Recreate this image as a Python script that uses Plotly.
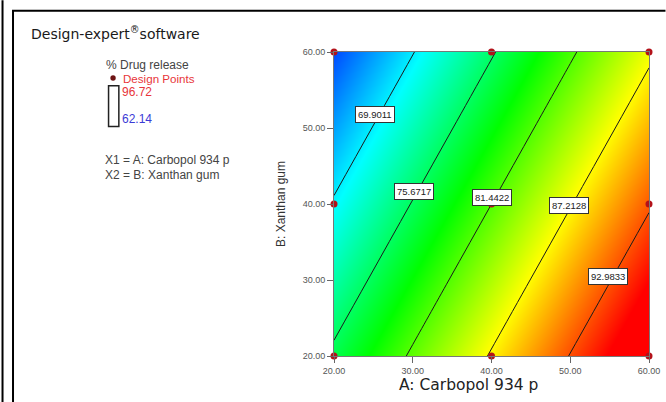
import plotly.graph_objects as go

# ---------------- data ----------------
A_levels = [20, 30, 40, 50, 60]          # A: Carbopol 934 p
B_levels = [20, 30, 40, 50, 60]          # B: Xanthan gum
# % drug release response surface (rows = B_levels, cols = A_levels)
release = [
    [76.30, 81.90, 87.50, 93.10, 98.70],   # B = 20
    [73.27, 78.87, 84.47, 90.07, 95.67],   # B = 30
    [70.24, 75.84, 81.44, 87.04, 92.64],   # B = 40
    [67.21, 72.81, 78.41, 84.01, 89.61],   # B = 50
    [64.18, 69.78, 75.38, 80.98, 86.58],   # B = 60
]
contour_levels = [69.9011, 75.6717, 81.4422, 87.2128, 92.9833]
label_A = [25.2, 30.1, 40.0, 49.8, 54.8]
label_B = [51.8, 41.7, 40.8, 39.8, 30.5]
design_A = [20, 20, 20, 40, 40, 40, 60, 60, 60]
design_B = [20, 40, 60, 20, 40, 60, 20, 40, 60]
resp_min, resp_max = 62.14, 96.72
tick_vals = [20, 30, 40, 50, 60]

# ---------------- layout geometry (pixels) ----------------
W, H = 666, 402
L, R, T, Bm = 334, 649.5, 51.7, 355.7

def pxx(px):
    return (px - L) / (R - L)

def pxy(py):
    return (Bm - py) / (Bm - T)

colorscale = [[0.0, "#0010ff"], [0.24, "#00ffff"], [0.48, "#00ff00"],
              [0.72, "#ffff00"], [0.97, "#ff0000"], [1.0, "#ff0000"]]

fig = go.Figure()
fig.add_trace(go.Heatmap(
    x=A_levels, y=B_levels, z=release, zsmooth="best",
    colorscale=colorscale, zmin=resp_min, zmax=resp_max, showscale=False,
    hoverinfo="skip"))
step = (contour_levels[-1] - contour_levels[0]) / (len(contour_levels) - 1)
fig.add_trace(go.Contour(
    x=A_levels, y=B_levels, z=release,
    contours=dict(start=contour_levels[0], end=contour_levels[-1], size=step,
                  coloring="lines", showlabels=False),
    colorscale=[[0, "#1a1a1a"], [1, "#1a1a1a"]], showscale=False,
    line=dict(width=1), hoverinfo="skip"))
fig.add_trace(go.Scatter(
    x=design_A, y=design_B, mode="markers",
    marker=dict(size=7, color="#b3121a"), cliponaxis=False, hoverinfo="skip"))

annotations = []
for a, b, lv in zip(label_A, label_B, contour_levels):
    annotations.append(dict(
        x=a, y=b, xref="x", yref="y", text=f"{lv:.4f}", showarrow=False,
        font=dict(family="Arial", size=9.5, color="#222"),
        bgcolor="white", bordercolor="#333", borderwidth=1, borderpad=2))

def txt(px, py, text, size, color, family="Arial", anchor="left"):
    annotations.append(dict(
        x=pxx(px), y=pxy(py), xref="paper", yref="paper", text=text,
        showarrow=False, xanchor=anchor, yanchor="middle",
        font=dict(family=family, size=size, color=color)))

txt(29, 33, "Design-expert<sup>®</sup>software", 14, "#1a1a1a", "DejaVu Sans")
txt(104, 64.3, "% Drug release", 12, "#444")
txt(121, 78, "Design Points", 11.6, "#e8353a")
txt(120, 91.7, "96.72", 12, "#e8353a")
txt(120, 119, "62.14", 12, "#3b3bd6")
txt(103, 160, "X1 = A: Carbopol 934 p", 12, "#444")
txt(103, 174.3, "X2 = B: Xanthan gum", 12, "#444")
txt(468.5, 385, "A: Carbopol 934 p", 15.5, "#222", "DejaVu Sans", "center")

shapes = [
    # page frame
    dict(type="line", xref="paper", yref="paper", x0=pxx(2), x1=pxx(2),
         y0=pxy(0), y1=pxy(402), line=dict(color="black", width=2)),
    dict(type="line", xref="paper", yref="paper", x0=pxx(12.5), x1=pxx(12.5),
         y0=pxy(10.5), y1=pxy(402), line=dict(color="black", width=2)),
    dict(type="line", xref="paper", yref="paper", x0=pxx(11.5), x1=pxx(666),
         y0=pxy(10.5), y1=pxy(10.5), line=dict(color="black", width=2)),
    # legend colour box
    dict(type="rect", xref="paper", yref="paper", x0=pxx(108.2), x1=pxx(118.5),
         y0=pxy(85.5), y1=pxy(126.2), line=dict(color="#222", width=1.5),
         fillcolor="white"),
    # legend design point dot
    dict(type="circle", xref="paper", yref="paper", x0=pxx(110), x1=pxx(115.4),
         y0=pxy(75), y1=pxy(80.4), line=dict(color="#6e1414", width=0),
         fillcolor="#6e1414"),
]

axis_common = dict(
    range=[20, 60], tickvals=tick_vals, tickformat=".2f",
    ticks="outside", ticklen=6, tickcolor="#666", tickwidth=1,
    showline=True, linecolor="#777", linewidth=1, mirror=True,
    showgrid=False, zeroline=False, automargin=False,
    tickfont=dict(family="Arial", size=9, color="#555"))

fig.update_layout(
    width=W, height=H, autosize=False,
    margin=dict(l=L, r=W - R, t=T, b=H - Bm, pad=0, autoexpand=False),
    paper_bgcolor="white", plot_bgcolor="white", showlegend=False,
    xaxis=dict(**axis_common),
    yaxis=dict(**axis_common,
               title=dict(text="B: Xanthan gum", standoff=14,
                          font=dict(family="Arial", size=12, color="#333"))),
    annotations=annotations, shapes=shapes)

fig.write_html("out.html")
